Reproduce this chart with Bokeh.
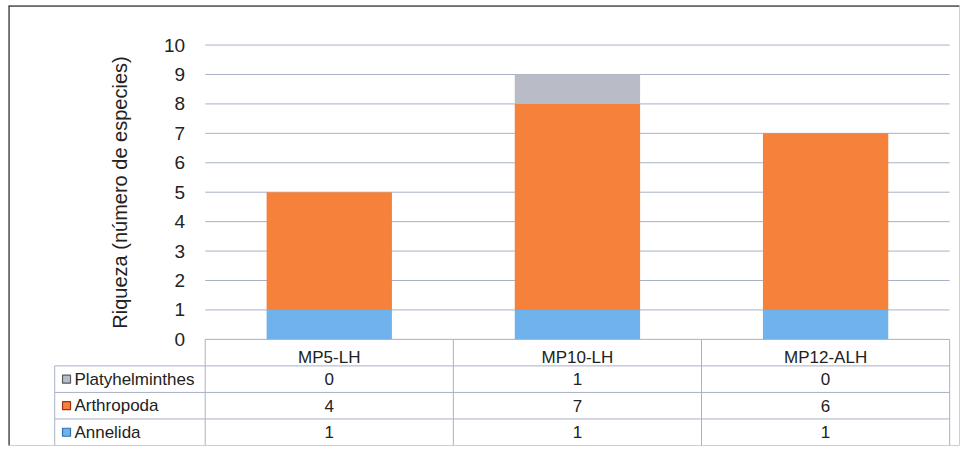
from bokeh.plotting import figure
from bokeh.models import Range1d, FixedTicker, ColumnDataSource, Span
from bokeh.embed import file_html
from bokeh.resources import INLINE
from bokeh.core.properties import value

# ---- data ----
categories = ["MP5-LH", "MP10-LH", "MP12-ALH"]
series = ["Annelida", "Arthropoda", "Platyhelminthes"]      # stacking order, bottom to top
annelida = [1, 1, 1]
arthropoda = [4, 7, 6]
platyhelminthes = [0, 1, 0]
series_colors = ["#70b3ec", "#f5813b", "#b9bcc6"]
legend_edge = ["#2f6fb0", "#a0301a", "#555a66"]
y_ticks = list(range(0, 11))
y_label = "Riqueza (número de especies)"

# ---- layout constants ----
W, H = 963, 447
SX, SY = W / 979, H / 463          # reference-pixel to figure-pixel scale
def fx(rx): return rx * SX
def fy(ry): return ry * SY

FR_L, FR_T, FR_R, FR_B = fx(8), fy(5), fx(975), fy(461)     # outer frame box
ORIGIN_X, ORIGIN_Y = fx(208), fy(351)                        # chart origin
PX_X = fx(965) - fx(208)                                     # 3 columns
PX_X /= 3
PX_Y = (fy(351) - fy(46)) / 10

def px_to_x(px): return 0.5 + (px - ORIGIN_X) / PX_X

x_start = px_to_x(FR_L)
x_end = px_to_x(FR_R)
y_end = (ORIGIN_Y - FR_T) / PX_Y
y_start = -(FR_B - ORIGIN_Y) / PX_Y
ROW_H = -y_start / 4
leg_left = px_to_x(fx(55))

xs = [i + 1 for i in range(len(categories))]
col_left = xs[0] - 0.5
col_right = xs[-1] + 0.5

p = figure(width=W, height=H, x_range=Range1d(x_start, x_end), y_range=Range1d(y_start, y_end),
           output_backend="svg", toolbar_location=None, tools="",
           min_border_left=round(FR_L), min_border_right=round(W - FR_R),
           min_border_top=round(FR_T), min_border_bottom=round(H - FR_B))
p.background_fill_color = "white"
p.border_fill_color = "white"
p.outline_line_color = "#cfcfcf"
p.outline_line_width = 1
p.xgrid.visible = False
p.ygrid.visible = False

FONT = value("Liberation Sans")
GRID_C = "#aab1c6"
TXT_C = "#222222"

# gridlines 0..10 across the chart columns
p.segment(x0=[col_left] * len(y_ticks), x1=[col_right] * len(y_ticks), y0=y_ticks, y1=y_ticks,
          line_color=GRID_C, line_width=1)

# stacked bars
src = ColumnDataSource(dict(x=xs, Annelida=annelida, Arthropoda=arthropoda, Platyhelminthes=platyhelminthes))
p.vbar_stack(series, x="x", width=0.505, color=series_colors, line_color=None, source=src)

# ---- data table below the chart ----
row_series = ["Platyhelminthes", "Arthropoda", "Annelida"]
row_values = [platyhelminthes, arthropoda, annelida]
row_colors = [series_colors[2], series_colors[1], series_colors[0]]
row_edges = [legend_edge[2], legend_edge[1], legend_edge[0]]
row_y = [-(r + 1.5) * ROW_H for r in range(len(row_series))]

hy = [-(k + 1) * ROW_H for k in range(len(row_series))]
p.segment(x0=[leg_left] * len(hy), x1=[col_right] * len(hy), y0=hy, y1=hy, line_color=GRID_C, line_width=1)
vx = [x - 0.5 for x in xs] + [col_right]
p.segment(x0=vx, x1=vx, y0=[0] * len(vx), y1=[y_start] * len(vx), line_color=GRID_C, line_width=1)
p.segment(x0=[leg_left], x1=[leg_left], y0=[-ROW_H], y1=[y_start], line_color=GRID_C, line_width=1)

p.scatter(x=[px_to_x(fx(67))] * 3, y=row_y, marker="square", size=8, fill_color=row_colors,
          line_color=row_edges, line_width=1.2)
p.text(x=[px_to_x(fx(75))] * 3, y=row_y, text=row_series, text_font=FONT, text_font_size="17px",
       text_align="left", text_baseline="middle", text_color=TXT_C)

tx, ty, tt = [], [], []
for r, vals in enumerate(row_values):
    for i, v in enumerate(vals):
        tx.append(xs[i]); ty.append(row_y[r]); tt.append(str(v))
p.text(x=tx, y=ty, text=tt, text_font=FONT, text_font_size="17px",
       text_align="center", text_baseline="middle", text_color=TXT_C)

# ---- axes ----
p.yaxis.fixed_location = col_left
p.yaxis.ticker = FixedTicker(ticks=y_ticks)
p.yaxis.bounds = (0, 10)
p.yaxis.axis_line_color = None
p.yaxis.major_tick_line_color = None
p.yaxis.minor_tick_line_color = None
p.yaxis.major_label_standoff = 14
p.yaxis.major_label_text_font = "Liberation Sans"
p.yaxis.major_label_text_font_size = "19px"
p.yaxis.major_label_text_color = TXT_C
p.yaxis.axis_label = y_label
p.yaxis.axis_label_text_font = "Liberation Sans"
p.yaxis.axis_label_text_font_size = "20px"
p.yaxis.axis_label_text_font_style = "normal"
p.yaxis.axis_label_text_color = TXT_C
p.yaxis.axis_label_standoff = 30

p.xaxis.fixed_location = 0
p.xaxis.ticker = FixedTicker(ticks=xs)
p.xaxis.major_label_overrides = {x: c for x, c in zip(xs, categories)}
p.xaxis.axis_line_color = None
p.xaxis.major_tick_line_color = None
p.xaxis.minor_tick_line_color = None
p.xaxis.major_label_standoff = 3
p.xaxis.major_label_text_font = "Liberation Sans"
p.xaxis.major_label_text_font_size = "17px"
p.xaxis.major_label_text_color = TXT_C

# dark frame lines at top and left
p.add_layout(Span(location=y_end, dimension="width", line_color="#3a3a3a", line_width=2.5))
p.add_layout(Span(location=x_start, dimension="height", line_color="#3a3a3a", line_width=2.5))

open("out.html", "w").write(file_html(p, INLINE))
